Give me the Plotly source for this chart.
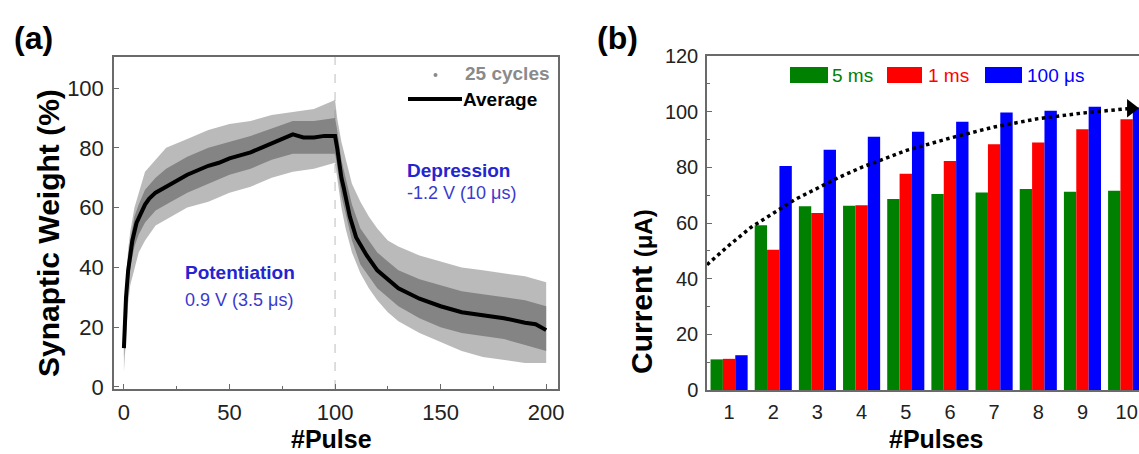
import plotly.graph_objects as go

W, H = 1139, 454

# ---------------- Panel (a) data ----------------
avg_pulse = [0, 1, 2, 3, 4, 5, 6, 8, 10, 12, 15, 20, 25, 30, 35, 40, 45, 50, 55, 60,
             65, 70, 75, 80, 85, 90, 95, 100, 101, 102, 103, 104, 105, 107, 110,
             115, 120, 125, 130, 140, 150, 160, 170, 180, 190, 195, 200]
avg_weight = [13, 30, 39, 45, 49, 52, 55, 58, 61, 63, 65, 67, 69, 71, 72.5, 74, 75, 76.5, 77.5, 78.5,
              80, 81.5, 83, 84.5, 83.5, 83.5, 84, 84, 80, 74, 70, 67, 64, 57, 50,
              44, 39, 36, 33, 29.5, 27, 25, 24, 23, 21.5, 21, 19]

# spread of the 25 cycles (outer cloud and dense core)
env_pulse = [0, 1, 2, 3, 5, 7, 10, 15, 20, 30, 40, 50, 60, 70, 80, 90, 100,
             101, 103, 105, 108, 112, 116, 120, 125, 130, 140, 150, 160, 170, 180, 190, 200]
cloud_upper = [16, 36, 46, 52, 60, 65, 72, 76, 80, 83, 86, 88, 89, 91, 92, 93, 96,
               90, 82, 76, 68, 62, 57, 53, 49, 47, 44, 42, 40, 39, 38, 37, 35]
cloud_lower = [5, 18, 28, 34, 40, 45, 49, 54, 56, 60, 62, 65, 67, 70, 72, 73, 75,
               70, 60, 53, 45, 38, 33, 29, 25, 22, 18, 15, 12, 10, 9, 8, 8]
core_upper = [14, 34, 43, 49, 57, 61, 66, 70, 73, 77, 80, 82, 84, 86.5, 89, 89, 90,
              86, 76, 70, 61, 53, 49, 45, 42, 39, 36, 34, 32, 31, 30, 29, 27]
core_lower = [10, 25, 34, 40, 47, 51, 55, 59, 61, 65, 68, 71, 73, 76, 78, 78, 78,
              74, 64, 58, 49, 41, 37, 33, 30, 27, 23, 20, 18, 17, 16, 14, 12]

# ---------------- Panel (b) data ----------------
pulses = [1, 2, 3, 4, 5, 6, 7, 8, 9, 10]
cur_5ms = [11, 59.2, 66, 66.2, 68.6, 70.4, 71, 72.2, 71.2, 71.6]
cur_1ms = [11.2, 50.4, 63.6, 66.4, 77.7, 82.3, 88.3, 88.9, 93.7, 97.3]
cur_100us = [12.5, 80.5, 86.3, 91, 92.8, 96.4, 99.7, 100.3, 101.8, 101.5]
trend_x = [0.5, 1, 1.5, 2, 2.5, 3, 3.5, 4, 5, 6, 7, 8, 9, 10.1]
trend_y = [45, 52, 58.5, 63.5, 68.5, 72.5, 76.5, 80, 86, 90.5, 94.5, 97.5, 99.5, 101.2]

FONT = "Liberation Sans, Arial, sans-serif"
BLUE_TXT = "#2424d0"


def px(x):
    return x / W


def py(y):
    return 1 - y / H


fig = go.Figure()

# cloud of 25 cycles
fig.add_trace(go.Scatter(x=env_pulse, y=cloud_lower, mode="lines", line=dict(width=0),
                         showlegend=False, hoverinfo="skip", xaxis="x", yaxis="y"))
fig.add_trace(go.Scatter(x=env_pulse, y=cloud_upper, mode="lines", line=dict(width=0),
                         fill="tonexty", fillcolor="rgba(140,140,140,0.6)",
                         showlegend=False, hoverinfo="skip", xaxis="x", yaxis="y"))
fig.add_trace(go.Scatter(x=env_pulse, y=core_lower, mode="lines", line=dict(width=0),
                         showlegend=False, hoverinfo="skip", xaxis="x", yaxis="y"))
fig.add_trace(go.Scatter(x=env_pulse, y=core_upper, mode="lines", line=dict(width=0),
                         fill="tonexty", fillcolor="rgb(132,132,132)",
                         showlegend=False, hoverinfo="skip", xaxis="x", yaxis="y"))
fig.add_trace(go.Scatter(x=avg_pulse, y=avg_weight, mode="lines",
                         line=dict(color="black", width=4),
                         showlegend=False, xaxis="x", yaxis="y"))

# bars
for vals, col, nm in [(cur_5ms, "#008000", "5 ms"), (cur_1ms, "#ff0000", "1 ms"),
                      (cur_100us, "#0000ff", "100 μs")]:
    fig.add_trace(go.Bar(x=pulses, y=vals, marker=dict(color=col, line=dict(width=0)),
                         name=nm, showlegend=False, xaxis="x2", yaxis="y2"))

fig.add_trace(go.Scatter(x=trend_x, y=trend_y, mode="lines",
                         line=dict(color="black", width=3.5, dash="dot"),
                         showlegend=False, xaxis="x2", yaxis="y2"))
fig.add_trace(go.Scatter(x=[trend_x[-1]], y=[trend_y[-1]], mode="markers",
                         marker=dict(symbol="triangle-right", size=16, color="black"),
                         showlegend=False, xaxis="x2", yaxis="y2", cliponaxis=False))

axis_common = dict(showline=True, linecolor="#6a6a6a", linewidth=1.5, showgrid=False,
                   zeroline=False, ticks="inside", ticklen=5, tickcolor="#6a6a6a",
                   automargin=False,
                   tickfont=dict(family=FONT, size=22, color="#222"))

fig.update_layout(
    template="none",
    width=W, height=H, margin=dict(l=0, r=0, t=0, b=0, pad=0, autoexpand=False),
    paper_bgcolor="white", plot_bgcolor="white",
    barmode="group", bargap=0.16, bargroupgap=0,
    showlegend=False,
    xaxis=dict(domain=[px(114), px(558)], range=[-4.7, 205.6], tickvals=[0, 50, 100, 150, 200],
               mirror=True, ticklabelstandoff=3,
               minor=dict(tickvals=[25, 75, 125, 175], ticks="inside", ticklen=3,
                          tickcolor="#6a6a6a"),
               anchor="y", **axis_common),
    yaxis=dict(domain=[py(389), py(57)], range=[-0.7, 110.4], tickvals=[0, 20, 40, 60, 80, 100],
               mirror=True, anchor="x", ticklabelstandoff=4, **axis_common),
    xaxis2=dict(domain=[px(707), 1.0], range=[0.5, 10.28], tickvals=pulses, anchor="y2",
                mirror=True, ticklabelstandoff=3,
                **{**axis_common, "ticks": "",
                   "tickfont": dict(family=FONT, size=20, color="#222")}),
    yaxis2=dict(domain=[py(390), py(56)], range=[0, 120], tickvals=[0, 20, 40, 60, 80, 100, 120],
                anchor="x2", ticklabelstandoff=3,
                minor=dict(tickvals=[10, 30, 50, 70, 90, 110], ticks="inside",
                           ticklen=3, tickcolor="#6a6a6a"),
                **{**axis_common, "tickfont": dict(family=FONT, size=20, color="#222")}),
)

# dashed separator at pulse 100
fig.add_shape(type="line", xref="x", yref="y", x0=100, x1=100, y0=-0.7, y1=110.4,
              line=dict(color="#bdbdbd", width=1, dash="dash"), layer="below")

ann = []


def text(x, y, s, size, color="black", bold=False, xanchor="center", angle=0, yanchor="middle"):
    ann.append(dict(x=px(x), y=py(y), xref="paper", yref="paper", text=(f"<b>{s}</b>" if bold else s),
                    showarrow=False, xanchor=xanchor, yanchor=yanchor, textangle=angle,
                    font=dict(family=FONT, size=size, color=color)))


text(33, 38, "(a)", 32, bold=True)
text(617, 38, "(b)", 32, bold=True)
text(48, 233, "Synaptic Weight (%)", 30, bold=True, angle=-90)
text(331, 439, "#Pulse", 25, bold=True)
ann.append(dict(x=px(641), y=py(292), xref="paper", yref="paper",
                text="<b>Current</b> <b><span style='font-size:24px'>(μA)</span></b>",
                showarrow=False, textangle=-90, xanchor="center", yanchor="middle",
                font=dict(family=FONT, size=30, color="black")))
text(936, 439, "#Pulses", 25, bold=True)

text(183, 272, "Potentiation", 19, color=BLUE_TXT, bold=True, xanchor="left")
text(183, 300, "0.9 V (3.5 μs)", 18, color="#3a3acc", xanchor="left")
text(405, 170, "Depression", 19, color=BLUE_TXT, bold=True, xanchor="left")
text(405, 193, "-1.2 V (10 μs)", 18, color="#3a3acc", xanchor="left")

# legend (a)
fig.add_shape(type="circle", xref="paper", yref="paper", x0=px(433.5), x1=px(437.5),
              y0=py(77), y1=py(73), fillcolor="#8a8a8a", line=dict(width=0))
text(552, 74, "25 cycles", 19, color="#8a8a8a", bold=True, xanchor="right")
fig.add_shape(type="line", xref="paper", yref="paper", x0=px(408), x1=px(462),
              y0=py(99), y1=py(99), line=dict(color="black", width=4))
text(461, 100, "Average", 19, bold=True, xanchor="left")

# legend (b)
for (x0, x1, col, lab, tx) in [(790, 828, "#008000", "5 ms", 830),
                               (887, 922, "#ff0000", "1 ms", 926),
                               (985, 1022, "#0000ff", "100 μs", 1025)]:
    fig.add_shape(type="rect", xref="paper", yref="paper", x0=px(x0), x1=px(x1),
                  y0=py(83), y1=py(67), fillcolor=col, line=dict(width=0))
    text(tx, 75, lab, 19, color=col, xanchor="left")

fig.update_layout(annotations=ann)
fig.write_html("out.html", config={"displayModeBar": False},
               post_script="document.body.style.margin='0';document.body.style.overflow='hidden';")
